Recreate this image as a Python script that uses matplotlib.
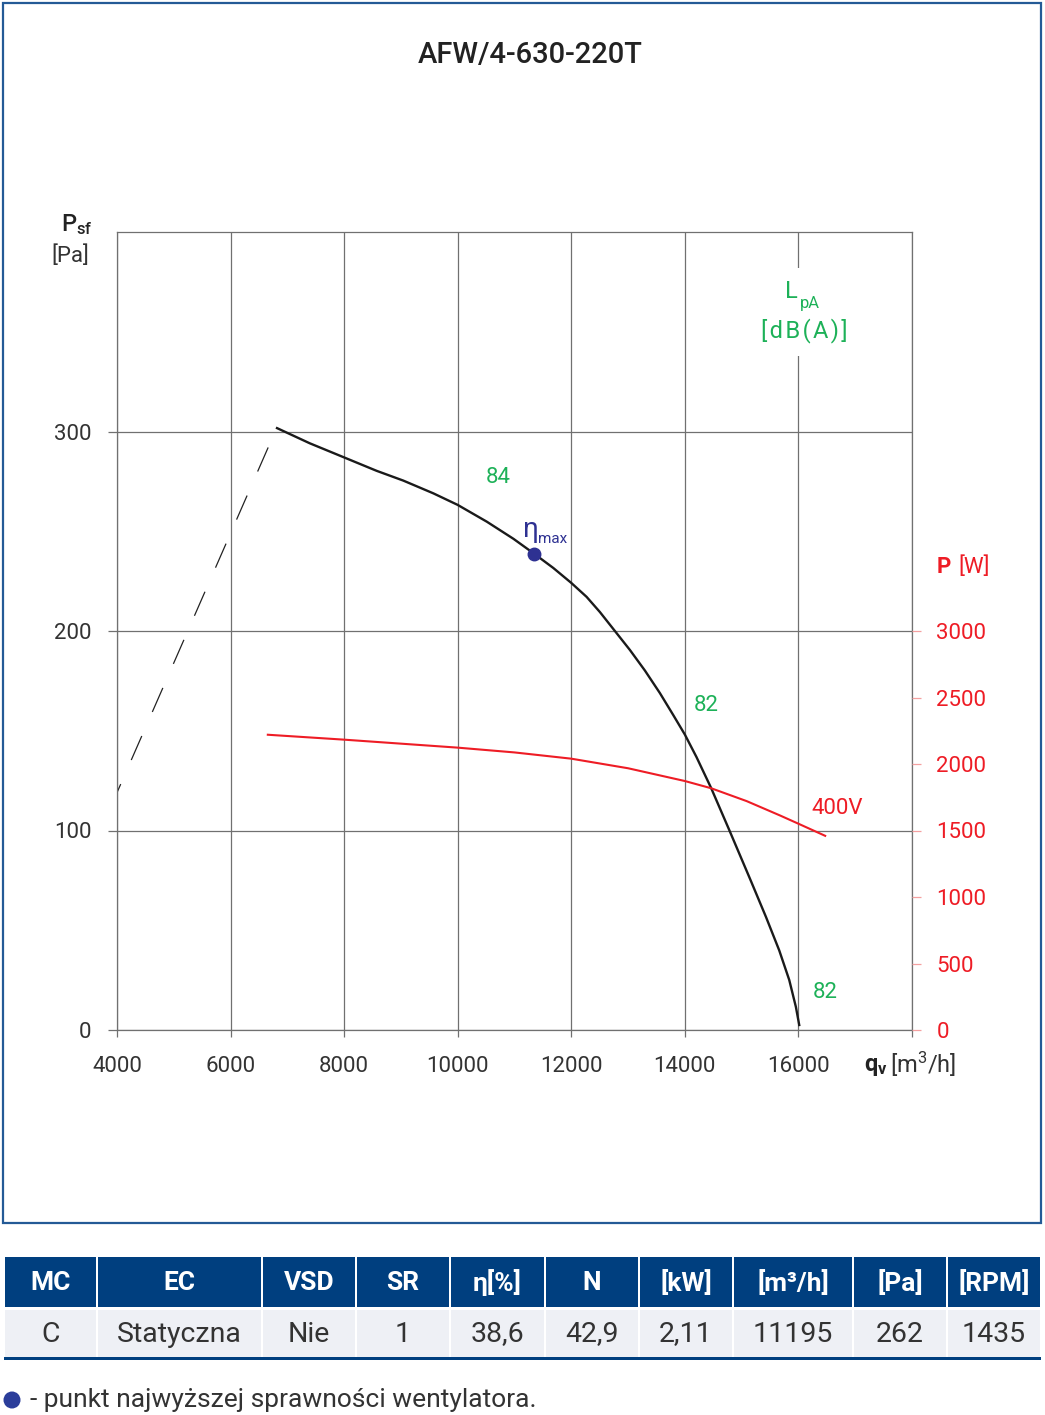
import matplotlib
matplotlib.use("Agg")
import matplotlib.pyplot as plt
from matplotlib.patches import Rectangle, Ellipse

plt.rcParams['font.family'] = ['Roboto', 'DejaVu Sans']
plt.rcParams['mathtext.default'] = 'regular'

# ---------------- data ----------------
title = "AFW/4-630-220T"
qv_psf = [6818, 7394, 8000, 8571, 9041, 9571, 10000, 10512, 10982, 11343, 11683,
          12000, 12270, 12504, 12768, 13032, 13296, 13560, 13795, 14000, 14205,
          14461, 14778, 15147, 15428, 15662, 15838, 15955, 16014]
psf = [301.7, 294.1, 287, 280.3, 275.4, 269, 263.2, 254.8, 246.2, 238.8, 231.6,
       224.1, 217.1, 209.5, 200, 190.5, 180.2, 168.9, 157.9, 148.1, 136.8,
       121.4, 100.5, 75.8, 56.7, 39.9, 25.1, 11.6, 2.5]
qv_power = [6656, 8000, 10000, 11000, 12000, 13000, 14000, 14461, 15088, 15676, 16000, 16471]
power_w = [2220, 2183, 2123, 2087, 2040, 1968, 1872, 1818, 1721, 1613, 1551, 1460]
qv_limit = [6662, 4000]
psf_limit = [292, 119]
eta_max_qv = [11343]
eta_max_psf = [238.8]
x_ticks = [4000, 6000, 8000, 10000, 12000, 14000, 16000, 18000]
x_ticklabels = ["4000", "6000", "8000", "10000", "12000", "14000", "16000", ""]
y_ticks = [0, 100, 200, 300]
p_ticks = [0, 500, 1000, 1500, 2000, 2500, 3000]
lpa_labels = ["84", "82", "82"]
lpa_qv = [10719, 14378, 16472]
lpa_psf = [277, 162.6, 19]
voltage_label = "400V"

table_header = ["MC", "EC", "VSD", "SR", "η[%]", "N", "[kW]", "[m³/h]", "[Pa]", "[RPM]"]
table_row = ["C", "Statyczna", "Nie", "1", "38,6", "42,9", "2,11", "11195", "262", "1435"]
legend_text = "- punkt najwyższej sprawności wentylatora."

# ---------------- style ----------------
W, H = 1045, 1415
GRID = '#707070'
TXT = '#333333'
GREEN = '#1db158'
RED = '#ee1c25'
NAVY = '#2e3192'
TBL = '#003f7f'
FRAME = '#245a96'

def fx(x):
    return x / W

def fy(y):
    return 1 - y / H

fig = plt.figure(figsize=(W / 100, H / 100), dpi=100)

# outer frame
fig.patches.append(Rectangle((fx(3), fy(1223)), fx(1041) - fx(3), fy(3) - fy(1223),
                             transform=fig.transFigure, fill=False,
                             edgecolor=FRAME, linewidth=1.6))

fig.text(fx(530), fy(55), title, ha='center', va='center', fontsize=21,
         fontweight='medium', color='#222222')

ax = fig.add_axes([fx(117), fy(1030), fx(912) - fx(117), fy(232) - fy(1030)])
ax.set_xlim(4000, 18000)
ax.set_ylim(0, 400)
ax.set_xticks(x_ticks)
ax.set_xticklabels(x_ticklabels)
ax.set_yticks(y_ticks)
ax.grid(True, color=GRID, linewidth=0.9)
ax.set_axisbelow(True)
for s in ax.spines.values():
    s.set_color(GRID)
    s.set_linewidth(0.9)
ax.tick_params(axis='x', direction='out', length=5, width=0.9, color=GRID,
               labelsize=16, labelcolor=TXT, pad=14)
ax.tick_params(axis='y', direction='out', length=6.5, width=0.9, color=GRID,
               labelsize=16, labelcolor=TXT, pad=12)

ax.plot(qv_limit, psf_limit, color='#222222', linewidth=0.9, dashes=(21, 21))
ax.plot(qv_psf, psf, color='#1a1a1a', linewidth=1.7, zorder=4,
        solid_joinstyle='round')
ax.plot(eta_max_qv, eta_max_psf, 'o', color=NAVY, markersize=9, zorder=5)

ax2 = ax.twinx()
ax2.set_ylim(0, 6000)
ax2.set_yticks(p_ticks)
ax2.tick_params(axis='y', direction='out', length=6.5, width=0.9, color='#f4a0a0',
                labelsize=16, labelcolor=RED, pad=11)
for s in ax2.spines.values():
    s.set_visible(False)
ax2.plot(qv_power, power_w, color=RED, linewidth=1.5, zorder=4,
         solid_joinstyle='round')

for lab, q, p in zip(lpa_labels, lpa_qv, lpa_psf):
    ax.text(q, p, lab, ha='center', va='center', fontsize=16, color=GREEN)
ax.text(16683, 111, voltage_label, ha='center', va='center', fontsize=16, color=RED)
ax.text(11288, 251, "η", ha='center', va='center', fontsize=20, color=NAVY)
ax.text(11420, 246, "max", ha='left', va='center', fontsize=11, color=NAVY)

# LpA label with white background interrupting grid line
ax.add_patch(Rectangle((15300, 338), 1600, 44, facecolor='white', edgecolor='none', zorder=2))
ax.text(15873, 370, "L", ha='center', va='center', fontsize=17, color=GREEN, zorder=3)
ax.text(16207, 364, "pA", ha='center', va='center', fontsize=12, color=GREEN, zorder=3)
hs = "\u200a"
ax.text(16102, 350.5, hs.join("[dB(A)]"), ha='center', va='center', fontsize=17,
        color=GREEN, zorder=3)

# axis titles
fig.text(fx(77), fy(225), "P$_{sf}$", ha='center', va='center', fontsize=17,
         color='#222222', fontweight='medium')
fig.text(fx(70), fy(256), "[Pa]", ha='center', va='center', fontsize=16, color=TXT)
fig.text(fx(864), fy(1066), "q$_v$", ha='left', va='center', fontsize=17,
         color='#222222', fontweight='bold')
fig.text(fx(890), fy(1064), "[m$^3$/h]", ha='left', va='center', fontsize=17, color=TXT)
fig.text(fx(937), fy(567), "P", ha='left', va='center', fontsize=16, color=RED,
         fontweight='bold')
fig.text(fx(958), fy(567), "[W]", ha='left', va='center', fontsize=16, color=RED)

# table
cols = [4, 97, 262, 356, 450, 545, 639, 733, 853, 947, 1041]
for i in range(len(table_header)):
    x0, x1 = cols[i], cols[i + 1]
    fig.patches.append(Rectangle((fx(x0 + 1), fy(1307)), fx(x1 - x0 - 2), fy(1257) - fy(1307),
                                 transform=fig.transFigure, facecolor=TBL, edgecolor='none'))
    fig.patches.append(Rectangle((fx(x0 + 1), fy(1357)), fx(x1 - x0 - 2), fy(1310) - fy(1357),
                                 transform=fig.transFigure, facecolor='#eef0f5', edgecolor='none'))
    cx = (x0 + x1) / 2
    fig.text(fx(cx), fy(1283), table_header[i], ha='center', va='center', fontsize=19,
             color='white', fontweight='bold')
    fig.text(fx(cx), fy(1334), table_row[i], ha='center', va='center', fontsize=20.5,
             color=TXT)
fig.patches.append(Rectangle((fx(4), fy(1360)), fx(1037), fy(1357) - fy(1360),
                             transform=fig.transFigure, facecolor=TBL, edgecolor='none'))

# legend
fig.patches.append(Ellipse((fx(12), fy(1400)), 17 / W, 17 / H, transform=fig.transFigure,
                           facecolor='#2b3d9a', edgecolor='none'))
fig.text(fx(30), fy(1400), legend_text, ha='left', va='center', fontsize=19, color=TXT)

fig.savefig("out.png", dpi=100)
